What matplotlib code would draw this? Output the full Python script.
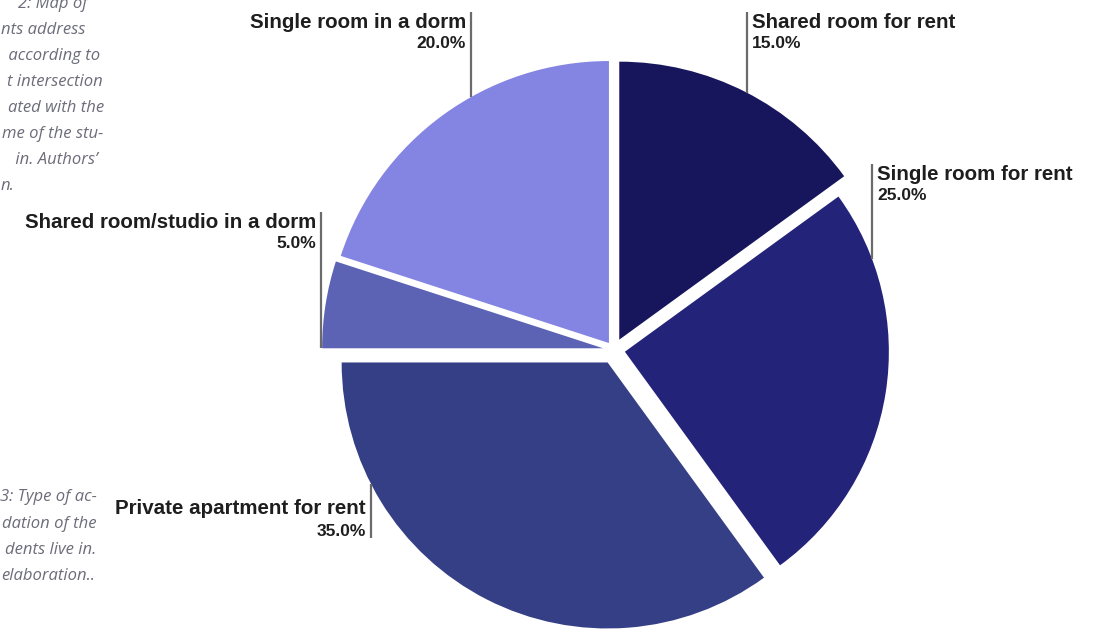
import matplotlib
matplotlib.use("Agg")
import matplotlib.pyplot as plt
import numpy as np

# Accommodation types, clockwise from 12 o'clock
categories = [
    "Shared room for rent",
    "Single room for rent",
    "Private apartment for rent",
    "Shared room/studio in a dorm",
    "Single room in a dorm",
]
shares = [15.0, 25.0, 35.0, 5.0, 20.0]
slice_colors = ["#17165c", "#24237a", "#343f85", "#5c63b5", "#8485e3"]

# Fragments of the neighbouring page captions (right edge, text)
caption_top = [(88, "2: Map of"), (85, "nts address"), (100, " according to"),
               (103, "t intersection"), (104, "ated with the"),
               (103, "me of the stu-"), (98, " in. Authors’"), (14, "n.")]
caption_bottom = [(97, "3: Type of ac-"), (97, "dation of the"),
                  (96, "dents live in."), (95, "elaboration..")]

W, H = 1110, 634
fig = plt.figure(figsize=(W / 100, H / 100), dpi=100)
ax = fig.add_axes([0, 0, 1, 1])


def py(y):
    """pixel row -> data y"""
    return H - y


# pie layout in pixels: common centre, per-slice pull and radius
cx, cy = 614, 350
pulls = [11.6, 11.0, 14.0, 11.0, 8.6]
radii = [278, 264, 266, 281, 282]

wedges, _ = ax.pie(shares, explode=pulls, colors=slice_colors,
                   startangle=90, counterclock=False, center=(cx, py(cy)),
                   radius=270, wedgeprops=dict(linewidth=0), frame=True)
for w, r in zip(wedges, radii):
    w.set_radius(r)
ax.set_xlim(0, W)
ax.set_ylim(0, H)
ax.set_aspect("equal")
ax.axis("off")

# label anchors: (leader x, row of name centre, side of the leader for the text)
label_layout = {
    "Shared room for rent": (747, 22, "right"),
    "Single room for rent": (872, 174, "right"),
    "Private apartment for rent": (371, 509, "left"),
    "Shared room/studio in a dorm": (321, 222, "left"),
    "Single room in a dorm": (471, 22, "left"),
}


def inside_span(w, ang):
    t1, t2 = w.theta1 % 360, w.theta2 % 360
    return (t1 <= ang <= t2) if t1 <= t2 else (ang >= t1 or ang <= t2)


for w, name, val in zip(wedges, categories, shares):
    lx, row, side = label_layout[name]
    wx, wy = w.center
    r = w.r
    dx = lx - wx
    arc_y = None
    if abs(dx) < r:
        dy = np.sqrt(r * r - dx * dx)
        cands = [yy for yy in (wy + dy, wy - dy)
                 if inside_span(w, np.degrees(np.arctan2(yy - wy, dx)) % 360)]
        if cands:
            arc_y = max(cands)
    if arc_y is None:
        arc_y = wy
    y_hi = py(row - 10)
    y_lo = py(row + 29)
    ax.plot([lx, lx], [min(arc_y, y_lo), max(arc_y, y_hi)], color="#6b6b6b",
            lw=1.6, solid_capstyle="butt")
    if side == "right":
        tx, ha = lx + 5, "left"
    else:
        tx, ha = lx - 5, "right"
    ax.text(tx, py(row), name, ha=ha, va="center", fontsize=14.8,
            family="Liberation Sans", color="#1e1e1e", fontweight="bold")
    ax.text(tx, py(row + 22), f"{val:.1f}%", ha=ha, va="center", fontsize=12.5,
            family="Liberation Sans", color="#1e1e1e", fontweight="bold")

cap_style = dict(fontsize=12, family="Open Sans", style="italic",
                 color="#6c6c7a", ha="right", va="center")
for i, (xr, line) in enumerate(caption_top):
    ax.text(xr, py(4 + i * 26.0), line, **cap_style)
for i, (xr, line) in enumerate(caption_bottom):
    ax.text(xr, py(497 + i * 26.5), line, **cap_style)

fig.savefig("out.png", dpi=100)
